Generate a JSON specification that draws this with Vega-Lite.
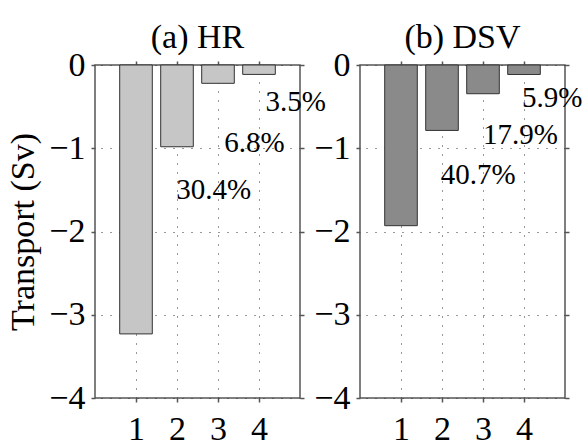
{
  "$schema": "https://vega.github.io/schema/vega-lite/v6.json",
  "background": "white",
  "padding": {"left": 6, "top": 20, "right": 5, "bottom": 0},
  "bounds": "flush",
  "spacing": 60,
  "datasets": {
    "transport": [
      {"panel": "HR", "box": 1, "sv": -3.23, "label": null, "lx": null, "ly": null},
      {"panel": "HR", "box": 2, "sv": -0.982, "label": "30.4%", "lx": 1.98, "ly": -1.5},
      {"panel": "HR", "box": 3, "sv": -0.22, "label": "6.8%", "lx": 3.15, "ly": -0.94},
      {"panel": "HR", "box": 4, "sv": -0.113, "label": "3.5%", "lx": 4.16, "ly": -0.44},
      {"panel": "DSV", "box": 1, "sv": -1.93, "label": null, "lx": null, "ly": null},
      {"panel": "DSV", "box": 2, "sv": -0.786, "label": "40.7%", "lx": 1.97, "ly": -1.32},
      {"panel": "DSV", "box": 3, "sv": -0.345, "label": "17.9%", "lx": 3.0, "ly": -0.84},
      {"panel": "DSV", "box": 4, "sv": -0.114, "label": "5.9%", "lx": 3.95, "ly": -0.4}
    ]
  },
  "hconcat": [
    {
      "width": 205,
      "height": 333,
      "data": {"name": "transport"},
      "transform": [{"filter": "datum.panel === 'HR'"}],
      "title": {"text": "(a) HR"},
      "layer": [
        {
          "mark": {"type": "point", "opacity": 0},
          "encoding": {
            "x": {"field": "box", "type": "quantitative", "scale": {"domain": [0, 5], "padding": 0},
                  "axis": {"orient": "top", "values": [1, 2, 3, 4], "labels": false, "grid": true, "title": null}},
            "y": {"field": "sv", "type": "quantitative", "scale": {"domain": [-4, 0], "padding": 0},
                  "axis": {"orient": "right", "values": [-4, -3, -2, -1, 0], "labels": false, "grid": true, "title": null}}
          }
        },
        {
          "mark": {"type": "bar", "orient": "vertical", "width": 32.6, "fill": "#c6c6c6", "stroke": "#333333", "strokeWidth": 1},
          "encoding": {
            "x": {"field": "box", "type": "quantitative", "scale": {"domain": [0, 5], "padding": 0},
                  "axis": {"orient": "bottom", "values": [1, 2, 3, 4], "grid": false, "title": null}},
            "y": {"field": "sv", "type": "quantitative", "scale": {"domain": [-4, 0], "padding": 0},
                  "axis": {"orient": "left", "values": [-4, -3, -2, -1, 0], "grid": false, "format": "d", "title": "Transport (Sv)"}}
          }
        },
        {
          "transform": [{"filter": "datum.label != null"}],
          "mark": {"type": "text", "align": "left", "baseline": "middle", "font": "Liberation Serif", "fontSize": 29, "fill": "black"},
          "encoding": {
            "x": {"field": "lx", "type": "quantitative", "scale": {"domain": [0, 5], "padding": 0}, "axis": null},
            "y": {"field": "ly", "type": "quantitative", "scale": {"domain": [-4, 0], "padding": 0}, "axis": null},
            "text": {"field": "label"}
          }
        }
      ],
      "resolve": {"axis": {"x": "independent", "y": "independent"}}
    },
    {
      "width": 205,
      "height": 333,
      "data": {"name": "transport"},
      "transform": [{"filter": "datum.panel === 'DSV'"}],
      "title": {"text": "(b) DSV"},
      "layer": [
        {
          "mark": {"type": "point", "opacity": 0},
          "encoding": {
            "x": {"field": "box", "type": "quantitative", "scale": {"domain": [0, 5], "padding": 0},
                  "axis": {"orient": "top", "values": [1, 2, 3, 4], "labels": false, "grid": true, "title": null}},
            "y": {"field": "sv", "type": "quantitative", "scale": {"domain": [-4, 0], "padding": 0},
                  "axis": {"orient": "right", "values": [-4, -3, -2, -1, 0], "labels": false, "grid": true, "title": null}}
          }
        },
        {
          "mark": {"type": "bar", "orient": "vertical", "width": 32.6, "fill": "#8a8a8a", "stroke": "#333333", "strokeWidth": 1},
          "encoding": {
            "x": {"field": "box", "type": "quantitative", "scale": {"domain": [0, 5], "padding": 0},
                  "axis": {"orient": "bottom", "values": [1, 2, 3, 4], "grid": false, "title": null}},
            "y": {"field": "sv", "type": "quantitative", "scale": {"domain": [-4, 0], "padding": 0},
                  "axis": {"orient": "left", "values": [-4, -3, -2, -1, 0], "grid": false, "format": "d", "title": null}}
          }
        },
        {
          "transform": [{"filter": "datum.label != null"}],
          "mark": {"type": "text", "align": "left", "baseline": "middle", "font": "Liberation Serif", "fontSize": 29, "fill": "black"},
          "encoding": {
            "x": {"field": "lx", "type": "quantitative", "scale": {"domain": [0, 5], "padding": 0}, "axis": null},
            "y": {"field": "ly", "type": "quantitative", "scale": {"domain": [-4, 0], "padding": 0}, "axis": null},
            "text": {"field": "label"}
          }
        }
      ],
      "resolve": {"axis": {"x": "independent", "y": "independent"}}
    }
  ],
  "config": {
    "view": {"stroke": "#555555", "strokeWidth": 1.5},
    "font": "Liberation Serif",
    "title": {"font": "Liberation Serif", "fontSize": 34, "fontWeight": "normal", "color": "black", "offset": -7, "anchor": "middle"},
    "axis": {
      "domain": false,
      "ticks": true,
      "tickColor": "#555555",
      "tickWidth": 1.5,
      "tickSize": 4,
      "labelFont": "Liberation Serif",
      "labelFontSize": 34,
      "labelColor": "black",
      "labelPadding": 6,
      "gridColor": "#333333",
      "gridDash": [1, 8],
      "gridWidth": 1,
      "gridOpacity": 1,
      "titleFont": "Liberation Serif",
      "titleFontSize": 34,
      "titleFontWeight": "normal",
      "titleColor": "black",
      "titlePadding": 8
    },
    "axisBottom": {"labelPadding": 10}
  }
}
